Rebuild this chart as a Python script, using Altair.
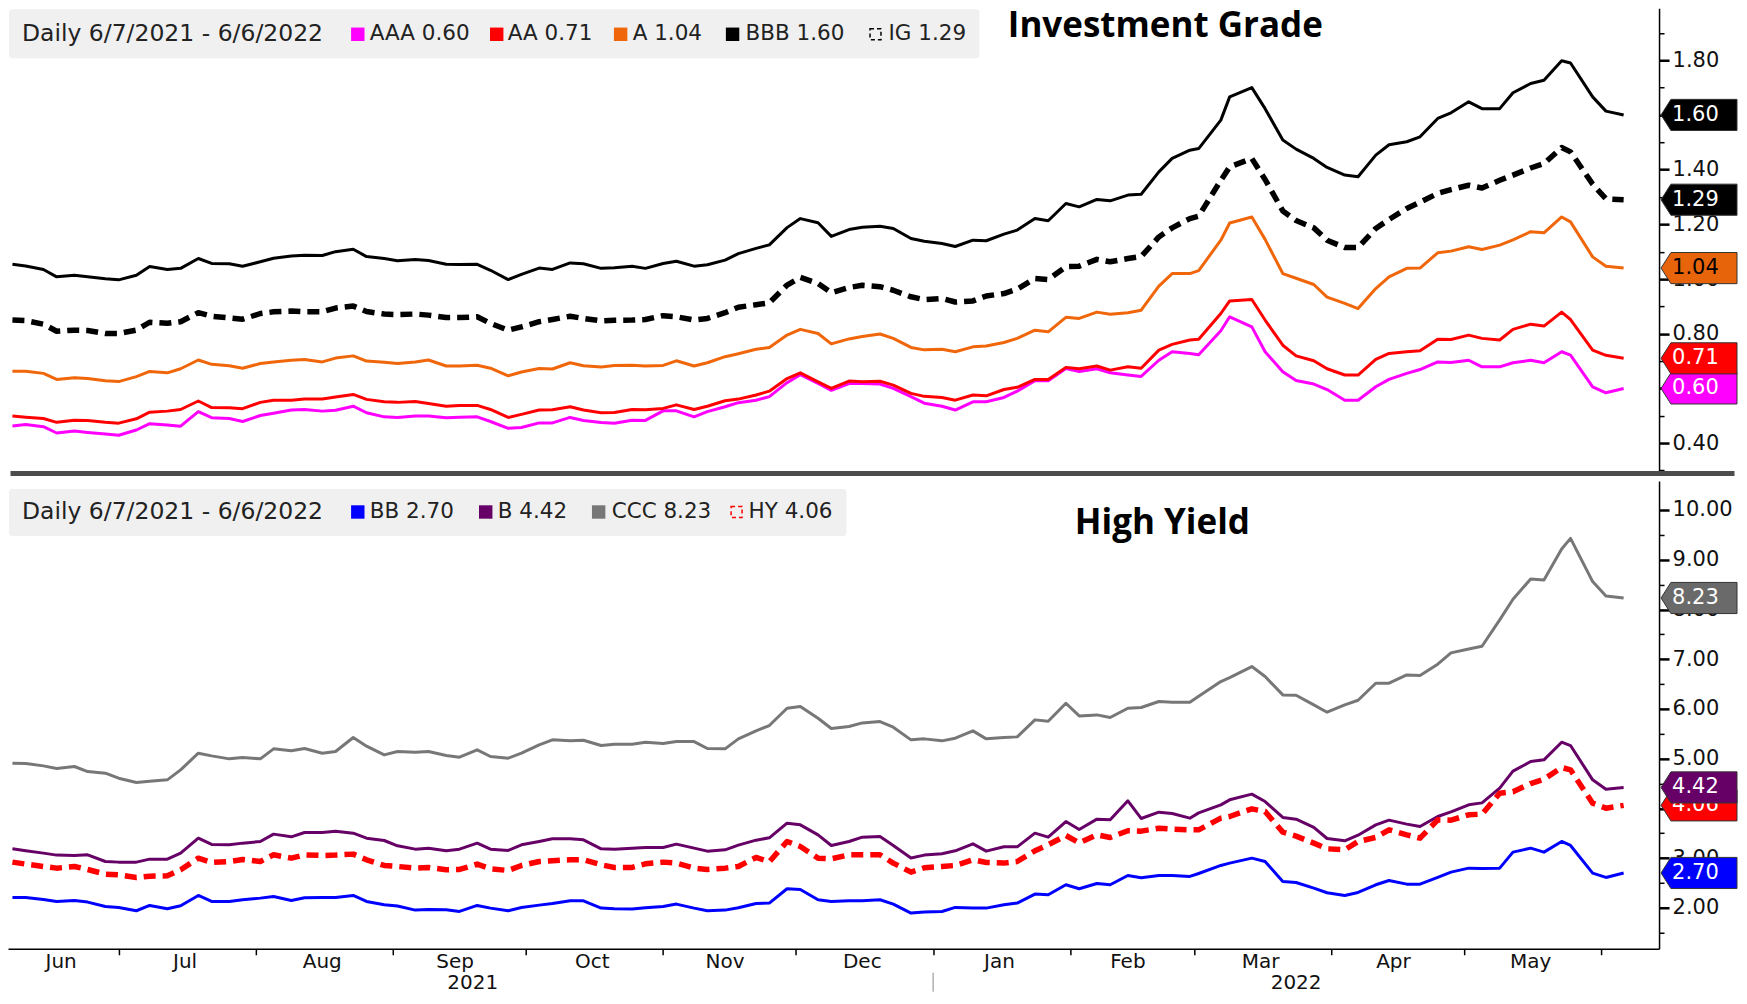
import altair as alt
import pandas as pd

# ---------------- data ----------------
# Mondays (plus a few peak days)
dates = [
    "2021-06-07", "2021-06-14", "2021-06-21", "2021-06-28",
    "2021-07-05", "2021-07-12", "2021-07-19", "2021-07-26",
    "2021-08-02", "2021-08-09", "2021-08-16", "2021-08-23", "2021-08-30",
    "2021-09-06", "2021-09-13", "2021-09-20", "2021-09-27",
    "2021-10-04", "2021-10-11", "2021-10-18", "2021-10-25",
    "2021-11-01", "2021-11-08", "2021-11-15", "2021-11-22", "2021-11-29",
    "2021-12-02", "2021-12-06", "2021-12-13", "2021-12-20", "2021-12-27",
    "2022-01-03", "2022-01-10", "2022-01-17", "2022-01-24", "2022-01-31",
    "2022-02-07", "2022-02-14", "2022-02-21", "2022-02-28",
    "2022-03-07", "2022-03-09", "2022-03-14", "2022-03-17", "2022-03-21", "2022-03-28",
    "2022-04-04", "2022-04-11", "2022-04-18", "2022-04-25",
    "2022-05-02", "2022-05-09", "2022-05-16", "2022-05-23", "2022-05-25", "2022-05-30",
    "2022-06-06",
]
# Thursdays in between
thu_dates = [
    "2021-06-10", "2021-06-17", "2021-06-24", "2021-07-01", "2021-07-08", "2021-07-15",
    "2021-07-22", "2021-07-29", "2021-08-05", "2021-08-12", "2021-08-19", "2021-08-26",
    "2021-09-02", "2021-09-09", "2021-09-16", "2021-09-23", "2021-09-30", "2021-10-07",
    "2021-10-14", "2021-10-21", "2021-10-28", "2021-11-04", "2021-11-11", "2021-11-18",
    "2021-11-25", "2021-12-09", "2021-12-16", "2021-12-23", "2021-12-30", "2022-01-06",
    "2022-01-13", "2022-01-20", "2022-01-27", "2022-02-03", "2022-02-10",
    "2022-02-17", "2022-02-24", "2022-03-02", "2022-03-24", "2022-03-31", "2022-04-07",
    "2022-04-14", "2022-04-21", "2022-04-28", "2022-05-05", "2022-05-12", "2022-05-19",
    "2022-06-02",
]

ig_names = ["AAA", "AA", "A", "BBB", "IG"]
aaa = [0.463, 0.460, 0.444, 0.433, 0.448, 0.466, 0.515, 0.490, 0.501, 0.521, 0.517, 0.535, 0.496,
       0.499, 0.493, 0.496, 0.454, 0.474, 0.494, 0.475, 0.484, 0.518, 0.496, 0.533, 0.557, 0.621,
       0.650, 0.618, 0.618, 0.616, 0.570, 0.535, 0.551, 0.567, 0.628, 0.673, 0.672, 0.649, 0.703, 0.728,
       0.811, 0.862, 0.825, 0.734, 0.661, 0.616, 0.557, 0.606, 0.655, 0.697,
       0.703, 0.679, 0.703, 0.734, 0.722, 0.606, 0.60]
aaa_thu = [0.468, 0.437, 0.439, 0.429, 0.471, 0.462, 0.493, 0.479, 0.509, 0.523, 0.520, 0.511,
           0.494, 0.499, 0.495, 0.479, 0.457, 0.474, 0.483, 0.473, 0.483, 0.518, 0.515, 0.548,
           0.570, 0.593, 0.618, 0.600, 0.546, 0.521, 0.551, 0.590, 0.628, 0.662, 0.657,
           0.644, 0.734, 0.723, 0.629, 0.596, 0.557, 0.633, 0.669, 0.695, 0.679, 0.694, 0.694, 0.584]
aa = [0.499, 0.490, 0.484, 0.476, 0.489, 0.517, 0.554, 0.529, 0.549, 0.557, 0.561, 0.578, 0.551,
      0.552, 0.535, 0.538, 0.494, 0.521, 0.533, 0.511, 0.523, 0.527, 0.523, 0.555, 0.576, 0.636,
      0.657, 0.624, 0.627, 0.626, 0.582, 0.567, 0.576, 0.596, 0.633, 0.677, 0.682, 0.679, 0.740, 0.777,
      0.874, 0.920, 0.925, 0.850, 0.758, 0.701, 0.649, 0.706, 0.734, 0.780,
      0.795, 0.777, 0.835, 0.879, 0.852, 0.740, 0.71]
aa_thu = [0.495, 0.476, 0.483, 0.473, 0.513, 0.523, 0.530, 0.526, 0.557, 0.561, 0.569, 0.560,
          0.549, 0.545, 0.538, 0.523, 0.505, 0.522, 0.521, 0.512, 0.522, 0.540, 0.535, 0.561,
          0.590, 0.600, 0.624, 0.612, 0.571, 0.557, 0.573, 0.604, 0.633, 0.672, 0.667,
          0.674, 0.761, 0.780, 0.719, 0.672, 0.649, 0.728, 0.738, 0.779, 0.783, 0.816, 0.828, 0.721]
a_ = [0.663, 0.655, 0.639, 0.628, 0.643, 0.657, 0.704, 0.683, 0.691, 0.703, 0.697, 0.719, 0.696,
      0.697, 0.682, 0.685, 0.646, 0.673, 0.694, 0.678, 0.685, 0.684, 0.682, 0.716, 0.743, 0.795,
      0.816, 0.801, 0.781, 0.799, 0.750, 0.743, 0.752, 0.768, 0.813, 0.860, 0.879, 0.877, 0.974, 1.020,
      1.142, 1.205, 1.227, 1.145, 1.020, 0.980, 0.911, 0.965, 1.039, 1.096,
      1.118, 1.124, 1.173, 1.227, 1.209, 1.081, 1.04]
a_thu = [0.663, 0.633, 0.636, 0.625, 0.662, 0.672, 0.688, 0.674, 0.697, 0.706, 0.711, 0.700,
         0.691, 0.704, 0.682, 0.674, 0.660, 0.671, 0.683, 0.684, 0.682, 0.701, 0.694, 0.727,
         0.750, 0.763, 0.790, 0.783, 0.741, 0.734, 0.755, 0.783, 0.807, 0.856, 0.871,
         0.886, 1.020, 1.031, 1.003, 0.934, 0.892, 1.008, 1.040, 1.102, 1.108, 1.143, 1.169, 1.047]
bbb = [1.054, 1.035, 1.014, 1.001, 1.014, 1.035, 1.075, 1.056, 1.063, 1.084, 1.086, 1.109, 1.075,
       1.071, 1.054, 1.054, 0.998, 1.040, 1.059, 1.039, 1.047, 1.057, 1.047, 1.069, 1.112, 1.188,
       1.221, 1.206, 1.181, 1.193, 1.148, 1.130, 1.142, 1.164, 1.221, 1.276, 1.291, 1.307, 1.392, 1.471,
       1.581, 1.666, 1.700, 1.623, 1.508, 1.441, 1.380, 1.453, 1.502, 1.587,
       1.648, 1.623, 1.715, 1.798, 1.790, 1.666, 1.60]
bbb_thu = [1.048, 1.008, 1.008, 0.997, 1.046, 1.039, 1.057, 1.047, 1.076, 1.087, 1.100, 1.082,
           1.067, 1.068, 1.053, 1.032, 1.017, 1.035, 1.056, 1.041, 1.039, 1.065, 1.052, 1.093,
           1.125, 1.156, 1.189, 1.185, 1.138, 1.119, 1.140, 1.179, 1.213, 1.264, 1.286,
           1.310, 1.441, 1.477, 1.475, 1.408, 1.374, 1.491, 1.520, 1.608, 1.623, 1.681, 1.727, 1.614]
ig = [0.850, 0.835, 0.813, 0.801, 0.813, 0.838, 0.877, 0.858, 0.874, 0.883, 0.880, 0.901, 0.872,
      0.872, 0.859, 0.862, 0.813, 0.844, 0.864, 0.847, 0.850, 0.866, 0.850, 0.877, 0.906, 0.978,
      1.006, 0.984, 0.969, 0.972, 0.935, 0.929, 0.920, 0.947, 1.002, 1.045, 1.072, 1.075, 1.154, 1.221,
      1.361, 1.410, 1.441, 1.364, 1.249, 1.187, 1.115, 1.185, 1.258, 1.313,
      1.343, 1.361, 1.406, 1.481, 1.465, 1.347, 1.29]
ig_thu = [0.848, 0.809, 0.812, 0.801, 0.842, 0.844, 0.864, 0.853, 0.880, 0.880, 0.894, 0.881,
          0.870, 0.868, 0.859, 0.838, 0.825, 0.852, 0.856, 0.849, 0.852, 0.862, 0.856, 0.897,
          0.913, 0.950, 0.977, 0.959, 0.925, 0.916, 0.938, 0.963, 0.998, 1.047, 1.063,
          1.082, 1.187, 1.230, 1.214, 1.142, 1.115, 1.218, 1.281, 1.327, 1.333, 1.380, 1.422, 1.293]

hy_names = ["BB", "B", "CCC", "HY"]
bb = [2.208, 2.167, 2.147, 2.027, 1.940, 1.980, 2.248, 2.127, 2.194, 2.147, 2.208, 2.248, 2.060,
      1.953, 1.960, 2.047, 1.940, 2.053, 2.141, 1.993, 1.973, 2.027, 1.993, 1.953, 2.087, 2.382,
      2.368, 2.161, 2.141, 2.161, 1.893, 1.926, 1.993, 2.060, 2.275, 2.462, 2.489, 2.650, 2.650, 2.630,
      2.851, 2.898, 2.998, 2.931, 2.529, 2.395, 2.248, 2.462, 2.475, 2.610,
      2.797, 2.797, 3.199, 3.333, 3.253, 2.697, 2.70]
bb_thu = [2.208, 2.127, 2.114, 2.007, 2.047, 2.040, 2.127, 2.161, 2.228, 2.201, 2.208, 2.127,
          2.034, 1.967, 1.926, 1.993, 2.007, 2.087, 2.141, 1.980, 2.000, 2.074, 1.940, 2.000,
          2.094, 2.127, 2.141, 2.074, 1.913, 2.007, 1.993, 2.094, 2.261, 2.382, 2.462,
          2.603, 2.650, 2.690, 2.509, 2.302, 2.308, 2.549, 2.475, 2.717, 2.791, 3.119, 3.119, 2.610]
b_ = [3.186, 3.099, 3.052, 2.931, 2.918, 2.978, 3.400, 3.266, 3.333, 3.427, 3.514, 3.501, 3.353,
      3.179, 3.146, 3.300, 3.153, 3.333, 3.387, 3.186, 3.199, 3.213, 3.199, 3.166, 3.360, 3.702,
      3.668, 3.467, 3.333, 3.434, 3.000, 3.085, 3.286, 3.226, 3.501, 3.735, 3.782, 4.151, 3.923, 3.802,
      4.070, 4.171, 4.285, 4.137, 3.816, 3.615, 3.347, 3.668, 3.682, 3.836,
      4.070, 4.406, 4.941, 5.330, 5.263, 4.573, 4.42]
b_thu = [3.146, 3.059, 3.065, 2.918, 2.978, 3.099, 3.273, 3.300, 3.481, 3.514, 3.541, 3.400,
         3.246, 3.199, 3.179, 3.179, 3.266, 3.387, 3.367, 3.179, 3.213, 3.280, 3.139, 3.260,
         3.407, 3.253, 3.420, 3.253, 3.059, 3.146, 3.139, 3.226, 3.420, 3.575, 3.769,
         3.796, 3.896, 3.909, 3.782, 3.393, 3.460, 3.762, 3.635, 3.929, 4.110, 4.747, 4.975, 4.385]
ccc = [4.908, 4.854, 4.841, 4.707, 4.519, 4.573, 5.109, 4.995, 4.995, 5.156, 5.109, 5.424, 5.075,
       5.129, 5.062, 5.176, 5.008, 5.276, 5.357, 5.263, 5.290, 5.303, 5.343, 5.196, 5.558, 6.013,
       6.047, 5.812, 5.645, 5.745, 5.377, 5.357, 5.558, 5.424, 5.779, 6.114, 5.879, 6.013, 6.148, 6.134,
       6.550, 6.630, 6.851, 6.650, 6.281, 6.080, 6.080, 6.516, 6.683, 6.898,
       7.206, 7.789, 8.613, 9.216, 9.430, 8.560, 8.23]
ccc_thu = [4.901, 4.801, 4.740, 4.606, 4.546, 4.774, 5.055, 5.022, 5.196, 5.203, 5.142, 5.250,
           5.142, 5.142, 5.028, 5.042, 5.109, 5.377, 5.370, 5.290, 5.330, 5.343, 5.203, 5.397,
           5.665, 5.605, 5.718, 5.631, 5.397, 5.410, 5.397, 5.437, 5.752, 5.859, 5.826,
           6.027, 6.134, 6.255, 6.275, 5.933, 6.174, 6.516, 6.670, 7.126, 7.260, 8.204, 8.593, 8.271]
hy = [2.918, 2.831, 2.831, 2.677, 2.610, 2.643, 2.998, 2.931, 2.931, 2.998, 3.052, 3.079, 2.851,
      2.797, 2.764, 2.878, 2.750, 2.931, 2.965, 2.864, 2.811, 2.918, 2.797, 2.797, 3.012, 3.333,
      3.233, 2.998, 3.065, 3.065, 2.717, 2.831, 2.965, 2.898, 3.146, 3.454, 3.467, 3.550, 3.601, 3.568,
      3.802, 3.836, 3.990, 3.936, 3.521, 3.300, 3.166, 3.414, 3.467, 3.769,
      3.869, 4.305, 4.499, 4.821, 4.774, 4.104, 4.06]
hy_thu = [2.878, 2.797, 2.770, 2.663, 2.636, 2.764, 2.911, 2.971, 3.065, 3.065, 3.059, 2.965,
          2.831, 2.811, 2.770, 2.784, 2.851, 2.945, 2.965, 2.811, 2.884, 2.898, 2.770, 2.831,
          2.925, 2.985, 3.065, 2.898, 2.804, 2.851, 2.911, 2.931, 3.266, 3.307, 3.414,
          3.541, 3.581, 3.568, 3.441, 3.186, 3.333, 3.568, 3.400, 3.762, 3.883, 4.332, 4.586, 4.003]

legend_title = "Daily 6/7/2021 - 6/6/2022"
panel_titles = ["Investment Grade", "High Yield"]

ig_ticks = [0.3, 0.4, 0.5, 0.6, 0.7, 0.8, 0.9, 1.0, 1.1, 1.2, 1.3, 1.4, 1.5, 1.6, 1.7, 1.8, 1.9]
hy_ticks = [1.5, 2.0, 2.5, 3.0, 3.5, 4.0, 4.5, 5.0, 5.5, 6.0, 6.5, 7.0, 7.5, 8.0, 8.5, 9.0, 9.5, 10.0]

month_starts = ["2021-07-01", "2021-08-01", "2021-09-01", "2021-10-01", "2021-11-01", "2021-12-01",
                "2022-01-01", "2022-02-01", "2022-03-01", "2022-04-01", "2022-05-01", "2022-06-01"]
month_label_dates = ["2021-06-18", "2021-07-16", "2021-08-16", "2021-09-15", "2021-10-16", "2021-11-15",
                     "2021-12-16", "2022-01-16", "2022-02-14", "2022-03-16", "2022-04-15", "2022-05-16"]
month_labels = ["Jun", "Jul", "Aug", "Sep", "Oct", "Nov", "Dec", "Jan", "Feb", "Mar", "Apr", "May"]
year_label_dates = ["2021-09-19", "2022-03-24"]
year_labels = ["2021", "2022"]
year_divider = ["2022-01-01"]
x_domain = ["2021-06-06", "2022-06-14"]

# ---------------- styles / layout ----------------
W = 1652
H1 = 463
H2 = 468
SEP = 5
TAG_W = 76
ig_domain = [0.298, 1.990]
hy_domain = [1.176, 10.583]

style = {
    "AAA": dict(color="#FF00FF", dashed=False, tag="#FF00FF", txt="white"),
    "AA": dict(color="#FF0000", dashed=False, tag="#FF0000", txt="white"),
    "A": dict(color="#F0660A", dashed=False, tag="#E8640A", txt="black"),
    "BBB": dict(color="#000000", dashed=False, tag="#000000", txt="white"),
    "IG": dict(color="#000000", dashed=True, tag="#000000", txt="white"),
    "BB": dict(color="#0000FF", dashed=False, tag="#0000FF", txt="white"),
    "B": dict(color="#660066", dashed=False, tag="#660066", txt="white"),
    "CCC": dict(color="#777777", dashed=False, tag="#6A6A6A", txt="white"),
    "HY": dict(color="#FF0000", dashed=True, tag="#FF0000", txt="white"),
}
legend_pos = {
    "AAA": (350, 362), "AA": (489, 500), "A": (613, 625), "BBB": (725, 738), "IG": (868, 881),
    "BB": (350, 362), "B": (478, 490), "CCC": (591, 604), "HY": (729, 741),
}
tag_order = {"IG": ["AAA", "AA", "IG", "BBB", "A"], "HY": ["CCC", "HY", "B", "BB"]}

FONT = "DejaVu Sans"
TITLE_FONT = "Open Sans"
TAG_PATH = "M-1,0L-0.74,-0.41L1,-0.41L1,0.41L-0.74,0.41Z"
TAG_SIZE = TAG_W * TAG_W


def utc(s):
    y, m, d = (int(v) for v in s.split("-"))
    return alt.DateTime(year=y, month=m, date=d, utc=True)


xscale = alt.Scale(type="utc", domain=[utc(x_domain[0]), utc(x_domain[1])])


def y_axis(vals, mod):
    major = f"round(datum.value*100) % {mod} == 0"
    return alt.Axis(
        orient="right", values=vals, title=None, grid=False,
        labelExpr=f"{major} ? format(datum.value, '.2f') : ''",
        tickSize={"condition": {"test": major, "value": 10}, "value": 5},
        tickWidth={"condition": {"test": major, "value": 2.5}, "value": 1.5},
        tickColor="black", domainColor="black", domainWidth=1.5,
        labelFont=FONT, labelFontSize=21, labelColor="#111111", labelPadding=3,
        labelOverlap=False, labelBound=False, labelFlush=False,
    )


def const(v):
    return pd.DataFrame({"t": [v]})


def panel(names, series, series_thu, ydomain, yticks, mod, H, title, title_y, legend_y, legend_box, bottom):
    yscale = alt.Scale(domain=ydomain, zero=False, nice=False)
    yax = y_axis(yticks, mod)
    if bottom:
        xax = alt.Axis(values=[utc(s) for s in month_starts], labels=False, title=None, grid=False,
                       tickSize=6, tickWidth=1.5, tickColor="black", domainColor="black", domainWidth=1.5)
    else:
        xax = None
    X = alt.X("date:T", scale=xscale, axis=xax)
    Y = alt.Y("value:Q", scale=yscale, axis=yax)

    rows = []
    for n, vals, vals2 in zip(names, series, series_thu):
        for d, v in zip(dates + thu_dates, vals + vals2):
            rows.append({"series": n, "date": d, "value": v})
    df = pd.DataFrame(rows)

    layers = []
    layers.append(alt.Chart(const(0)).mark_rect(fill="#F0F0F0", cornerRadius=3).encode(
        x=alt.value(legend_box[0]), x2=alt.value(legend_box[1]),
        y=alt.value(legend_box[2]), y2=alt.value(legend_box[3])))
    layers.append(alt.Chart(const(legend_title)).mark_text(
        align="left", baseline="middle", font=FONT, fontSize=23.5, color="#222222").encode(
        x=alt.value(14), y=alt.value(legend_y), text="t:N"))
    last = {n: vals[-1] for n, vals in zip(names, series)}
    for n in names:
        sx, tx = legend_pos[n]
        st = style[n]
        if not st["dashed"]:
            sym = alt.Chart(const(0)).mark_square(
                size=180, color=st["color"], opacity=1, filled=True).encode(
                x=alt.value(sx), y=alt.value(legend_y))
        else:
            sym = alt.Chart(const(0)).mark_square(
                size=120, filled=False, stroke=st["color"], strokeWidth=1.5,
                strokeDash=[4, 3], opacity=1).encode(x=alt.value(sx), y=alt.value(legend_y))
        layers.append(sym)
        layers.append(alt.Chart(const(f"{n} {last[n]:.2f}")).mark_text(
            align="left", baseline="middle", font=FONT, fontSize=21.5, color="#222222").encode(
            x=alt.value(tx), y=alt.value(legend_y), text="t:N"))

    layers.append(alt.Chart(const(title[0])).mark_text(
        align="center", baseline="alphabetic", font=TITLE_FONT, fontSize=35, fontWeight="bold",
        color="black").encode(x=alt.value(title[1]), y=alt.value(title_y), text="t:N"))

    solid = [n for n in names if not style[n]["dashed"]]
    layers.append(alt.Chart(df).transform_filter(
        alt.FieldOneOfPredicate(field="series", oneOf=solid)
    ).mark_line(strokeJoin="round", strokeWidth=3).encode(
        x=X, y=Y,
        color=alt.Color("series:N", scale=alt.Scale(domain=solid, range=[style[n]["color"] for n in solid]),
                        legend=None),
        order=alt.Order("date:T"),
    ))
    for n in names:
        if style[n]["dashed"]:
            layers.append(alt.Chart(df).transform_filter(alt.datum.series == n).mark_line(
                strokeJoin="round", strokeWidth=5.5, strokeDash=[12, 7], color=style[n]["color"]
            ).encode(x=X, y=Y, order=alt.Order("date:T")))

    order = tag_order["HY" if bottom else "IG"]
    for n in order:
        d = pd.DataFrame({"series": [n], "value": [last[n]], "label": [f"{last[n]:.2f}"]})
        st = style[n]
        layers.append(alt.Chart(d).mark_point(
            shape=TAG_PATH, filled=True, fill=st["tag"], stroke="#333333", strokeWidth=1,
            size=TAG_SIZE, opacity=1).encode(x=alt.value(W + 2 + TAG_W / 2), y=Y))
        layers.append(alt.Chart(d).mark_text(
            align="left", baseline="middle", font=FONT, fontSize=21, color=st["txt"]).encode(
            x=alt.value(W + 13), y=Y, text="label:N"))

    if not bottom:
        layers.append(alt.Chart(const(0)).mark_rule(color="#4D4D4D", strokeWidth=SEP).encode(
            x=alt.value(SEP / 2), x2=alt.value(W + 2 + TAG_W - SEP / 2), y=alt.value(H + SEP / 2)))
    else:
        mdf = pd.DataFrame({"date": month_label_dates, "label": month_labels})
        layers.append(alt.Chart(mdf).mark_text(baseline="middle", font=FONT, fontSize=20, color="#111111").encode(
            x=X, y=alt.value(H + 13), text="label:N"))
        ydf = pd.DataFrame({"date": year_label_dates, "label": year_labels})
        layers.append(alt.Chart(ydf).mark_text(baseline="middle", font=FONT, fontSize=20, color="#111111").encode(
            x=X, y=alt.value(H + 34), text="label:N"))
        ddf = pd.DataFrame({"date": year_divider})
        layers.append(alt.Chart(ddf).mark_rule(color="#888888", strokeWidth=1).encode(
            x=X, y=alt.value(H + 24), y2=alt.value(H + 43)))

    return alt.layer(*layers).properties(width=W, height=H)


top = panel(ig_names, [aaa, aa, a_, bbb, ig], [aaa_thu, aa_thu, a_thu, bbb_thu, ig_thu],
            ig_domain, ig_ticks, 20, H1, (panel_titles[0], 1158), 29, 26, (1, 972, 1, 50), False)
bottom = panel(hy_names, [bb, b_, ccc, hy], [bb_thu, b_thu, ccc_thu, hy_thu],
               hy_domain, hy_ticks, 100, H2, (panel_titles[1], 1155), 53, 31, (1, 839, 8, 55), True)

chart = alt.vconcat(top, bottom, spacing=0).resolve_scale(
    color="independent", y="independent"
).properties(padding={"left": 0, "top": 0, "right": 0, "bottom": 0}, background="white"
).configure_view(stroke=None)

chart.save("out.html", embed_options={"renderer": "svg", "actions": False})
